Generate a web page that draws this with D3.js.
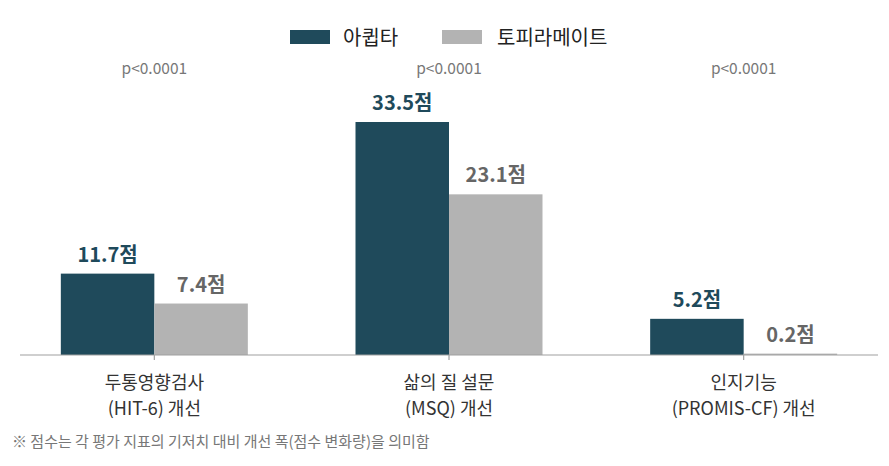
<!DOCTYPE html>
<meta charset="utf-8" />
<script src="https://d3js.org/d3.v7.min.js"></script>
<style>
  body { margin: 0; background: #fff; }
  text { font-family: "Noto Sans CJK KR", "Noto Sans", sans-serif; }
</style>
<body>
<div id="chart"></div>
<script>
  // chart data
  const categories = [["두통영향검사", "(HIT-6) 개선"], ["삶의 질 설문", "(MSQ) 개선"], ["인지기능", "(PROMIS-CF) 개선"]];
  const seriesNames = ["아큅타", "토피라메이트"];
  const atogepant = [11.7, 33.5, 5.2];
  const topiramate = [7.4, 23.1, 0.2];
  const pValues = ["p<0.0001", "p<0.0001", "p<0.0001"];
  const footnote = "※ 점수는 각 평가 지표의 기저치 대비 개선 폭(점수 변화량)을 의미함";

  const colors = ["#1f4a5b", "#b3b3b3"];
  const labelColors = ["#1f4a5b", "#666666"];

  const width = 889, height = 466;
  const svg = d3.select("#chart").append("svg")
    .attr("width", width).attr("height", height);

  const x0 = d3.scaleBand().domain(d3.range(categories.length)).range([7, 891]);
  const x1 = d3.scaleBand().domain(d3.range(seriesNames.length)).range([x0.bandwidth() / 2 - 93.5, x0.bandwidth() / 2 + 93.5]);
  const y = d3.scaleLinear().domain([0, 33.5]).range([355, 122]);

  const rows = categories.map((c, i) => ({ i, values: [atogepant[i], topiramate[i]] }));

  // bars
  const groups = svg.append("g").selectAll("g").data(rows).join("g")
    .attr("transform", d => `translate(${x0(d.i)},0)`);

  groups.selectAll("rect").data(d => d.values.map((v, s) => ({ v, s }))).join("rect")
    .attr("x", d => x1(d.s))
    .attr("y", d => y(d.v))
    .attr("width", x1.bandwidth())
    .attr("height", d => y(0) - y(d.v))
    .attr("fill", d => colors[d.s]);

  groups.selectAll("text.val").data(d => d.values.map((v, s) => ({ v, s }))).join("text")
    .attr("class", "val")
    .attr("x", d => x1(d.s) + x1.bandwidth() / 2)
    .attr("y", d => y(d.v) - 12)
    .attr("text-anchor", "middle")
    .attr("font-size", 20).attr("font-weight", "bold")
    .attr("fill", d => labelColors[d.s])
    .text(d => d.v.toFixed(1) + "점");

  // p-values
  svg.append("g").selectAll("text").data(pValues).join("text")
    .attr("x", (d, i) => x0(i) + x0.bandwidth() / 2)
    .attr("y", 74)
    .attr("text-anchor", "middle")
    .attr("font-size", 15.5).attr("fill", "#777")
    .text(d => d);

  // axis
  const axis = svg.append("g");
  axis.append("line")
    .attr("x1", 20).attr("x2", 878).attr("y1", y(0)).attr("y2", y(0))
    .attr("stroke", "#a0a0a0").attr("stroke-width", 1.2);
  axis.selectAll("line.tick").data(categories).join("line")
    .attr("class", "tick")
    .attr("x1", (d, i) => x0(i) + x0.bandwidth() / 2)
    .attr("x2", (d, i) => x0(i) + x0.bandwidth() / 2)
    .attr("y1", y(0)).attr("y2", y(0) + 5)
    .attr("stroke", "#a0a0a0").attr("stroke-width", 1.2);

  // category labels, one text per line
  categories.forEach((lines, i) => {
    axis.selectAll(null).data(lines).join("text")
      .attr("x", x0(i) + x0.bandwidth() / 2)
      .attr("y", (d, j) => 388.5 + j * 26.5)
      .attr("text-anchor", "middle")
      .attr("font-size", 18).attr("fill", "#333")
      .text(d => d);
  });

  // legend
  const legendX = [290, 442];
  const legend = svg.append("g").selectAll("g").data(seriesNames).join("g")
    .attr("transform", (d, i) => `translate(${legendX[i]},30)`);
  legend.append("rect").attr("width", 40).attr("height", 14).attr("fill", (d, i) => colors[i]);
  legend.append("text").attr("x", (d, i) => i === 0 ? 53 : 55).attr("y", 15)
    .attr("font-size", 20).attr("fill", "#222").text(d => d);

  // footnote
  svg.append("text").attr("x", 12).attr("y", 447)
    .attr("font-size", 15).attr("fill", "#777").text(footnote);
</script>
</body>
